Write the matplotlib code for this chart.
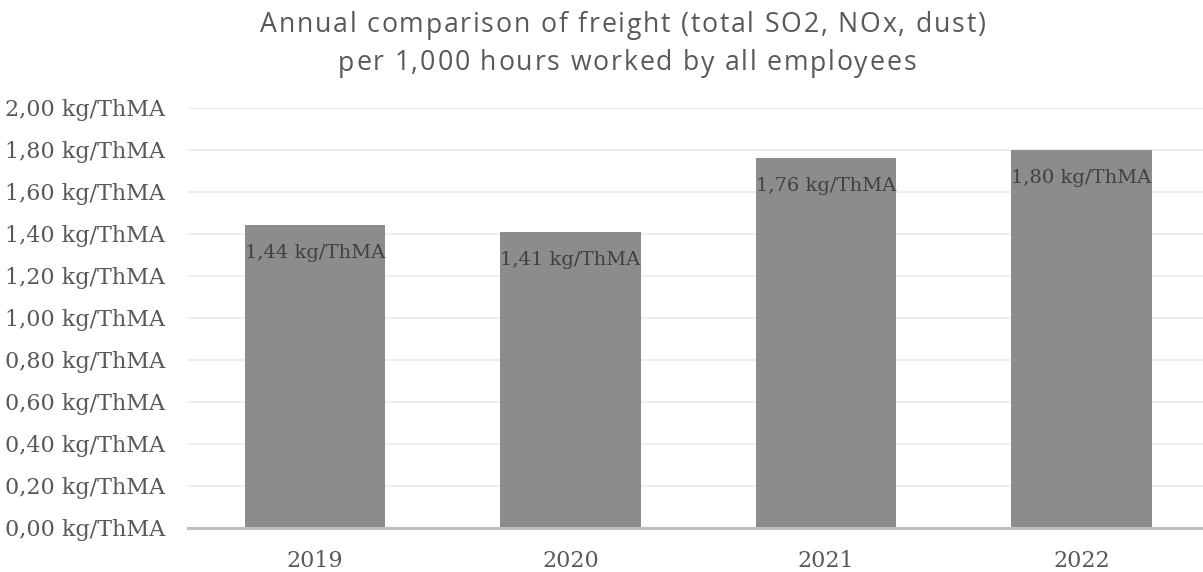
import matplotlib
matplotlib.use("Agg")
import matplotlib.pyplot as plt
from matplotlib.ticker import FixedLocator, FuncFormatter
from matplotlib.font_manager import FontProperties

years = ["2019", "2020", "2021", "2022"]
values = [1.44, 1.41, 1.76, 1.80]
yticks = [0.0, 0.2, 0.4, 0.6, 0.8, 1.0, 1.2, 1.4, 1.6, 1.8, 2.0]
title_lines = ["Annual comparison of freight (total SO2, NOx, dust)",
               "per 1,000 hours worked by all employees"]

def fmt(v):
    return f"{v:.2f}".replace(".", ",") + " kg/ThMA"

W, H = 1203, 572
fig = plt.figure(figsize=(W / 100, H / 100), dpi=100)
left, right, top, bottom = 187.5, 1209, 108, 527.5
ax = fig.add_axes([left / W, 1 - bottom / H, (right - left) / W, (bottom - top) / H])

x = list(range(len(years)))
ax.bar(x, values, width=0.55, color="#8c8c8c", zorder=3)
ax.set_xlim(-0.5, len(years) - 0.5)
ax.set_ylim(0, 2.0)

serif = ["DejaVu Serif"]
ax.yaxis.set_major_locator(FixedLocator(yticks))
ax.yaxis.set_major_formatter(FuncFormatter(lambda v, p: fmt(v)))
ax.set_xticks(x)
ax.set_xticklabels(years)
for lab in ax.get_yticklabels() + ax.get_xticklabels():
    lab.set_fontfamily(serif)
    lab.set_fontsize(16)
    lab.set_color("#595959")
ax.tick_params(axis="both", length=0)
ax.tick_params(axis="y", pad=16)
ax.tick_params(axis="x", pad=16)

ax.grid(axis="y", color="#efefef", linewidth=1.5, zorder=0)
for s in ["top", "right", "left"]:
    ax.spines[s].set_visible(False)
ax.spines["bottom"].set_color("#bfbfbf")
ax.spines["bottom"].set_linewidth(2.2)
ax.spines["bottom"].set_zorder(4)

for xi, v in zip(x, values):
    ax.annotate(fmt(v), (xi, v), xytext=(0, -20), textcoords="offset points",
                ha="center", va="center", fontfamily=serif, fontsize=14,
                color="#404040", zorder=5)

# Title with letter tracking (drawn character by character)
renderer = fig.canvas.get_renderer()
prop = FontProperties(family="Open Sans", size=19.2)

def text_w(s):
    w, h, d = renderer.get_text_width_height_descent(s, prop, ismath=False)
    return w

track = 1.8
bar_w = text_w("|")
baselines = [32.5, 70.5]
centers = [622.5, 627]
for line, base, cx in zip(title_lines, baselines, centers):
    offs = [text_w(line[:i] + "|") - bar_w + i * track for i in range(len(line))]
    total = text_w(line + "|") - bar_w + (len(line) - 1) * track
    x0 = cx - total / 2
    for ch, o in zip(line, offs):
        if ch == " ":
            continue
        fig.text((x0 + o) / W, 1 - base / H, ch, ha="left", va="baseline",
                 fontproperties=prop, color="#595959")

fig.savefig("out.png", dpi=100)
